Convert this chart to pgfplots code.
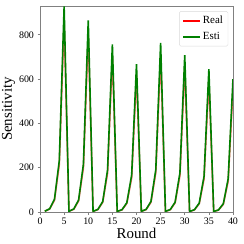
\documentclass[border=0pt]{standalone}
\usepackage{pgfplots}
\pgfplotsset{compat=1.18}
\usepackage{fontspec}
\setmainfont{Liberation Serif}
\definecolor{mplgreen}{HTML}{008000}
\definecolor{spine}{HTML}{808080}
\begin{document}
\begin{tikzpicture}[x=1bp,y=1bp]
\useasboundingbox (0,0) rectangle (244,244);
\begin{axis}[
  at={(40bp,32bp)}, anchor=south west,
  scale only axis, width=193bp, height=206bp,
  xmin=0, xmax=40, ymin=0, ymax=930,
  xtick={0,5,...,40}, ytick={0,200,400,600,800},
  tick align=outside, tick pos=left,
  major tick length=2.5bp,
  axis line style={spine, line width=0.8pt},
  every tick/.style={spine, line width=0.6pt},
  tick label style={font=\fontsize{10}{12}\selectfont},
  /pgf/number format/assume math mode=true,
  xlabel={Round}, ylabel={Sensitivity},
  xlabel style={font=\fontsize{15}{16}\selectfont, yshift=3bp},
  ylabel style={font=\fontsize{15}{16}\selectfont, yshift=-3bp},
  legend style={at={(0.975,0.975)}, anchor=north east, draw=black!15, rounded corners=1.5bp, font=\fontsize{11}{13}\selectfont, inner sep=3bp, row sep=3bp},
  legend cell align=left,
  legend image code/.code={\draw[#1, opacity=1] (0bp,0bp) -- (17bp,0bp);},
]
\addplot[red, line width=1.6pt, opacity=0.6] coordinates {
(1,3.3) (2,13.4) (3,53) (4,214) (5,860)
(6,3.1) (7,12.5) (8,50) (9,200) (10,800)
(11,2.7) (12,10.9) (13,44) (14,175) (15,700)
(16,2.4) (17,9.6) (18,39) (19,154) (20,617)
(21,2.8) (22,11) (23,44) (24,177) (25,706)
(26,2.6) (27,10.3) (28,41) (29,164) (30,655)
(31,2.3) (32,9.3) (33,37) (34,149) (35,597)
(36,2.1) (37,8.7) (38,35) (39,139) (40,555)
};
\addlegendentry{Real}
\addplot[mplgreen, line width=1.6pt] coordinates {
(1,3.6) (2,14.5) (3,58) (4,232) (5,928)
(6,3.4) (7,13.5) (8,54) (9,216) (10,865)
(11,3.0) (12,11.8) (13,47) (14,189) (15,757)
(16,2.6) (17,10.4) (18,42) (19,167) (20,667)
(21,3.0) (22,11.9) (23,48) (24,191) (25,763)
(26,2.8) (27,11.1) (28,44) (29,177) (30,708)
(31,2.5) (32,10.1) (33,40) (34,161) (35,645)
(36,2.3) (37,9.4) (38,37.5) (39,150) (40,600)
};
\addlegendentry{Esti}
\end{axis}
\end{tikzpicture}
\end{document}
